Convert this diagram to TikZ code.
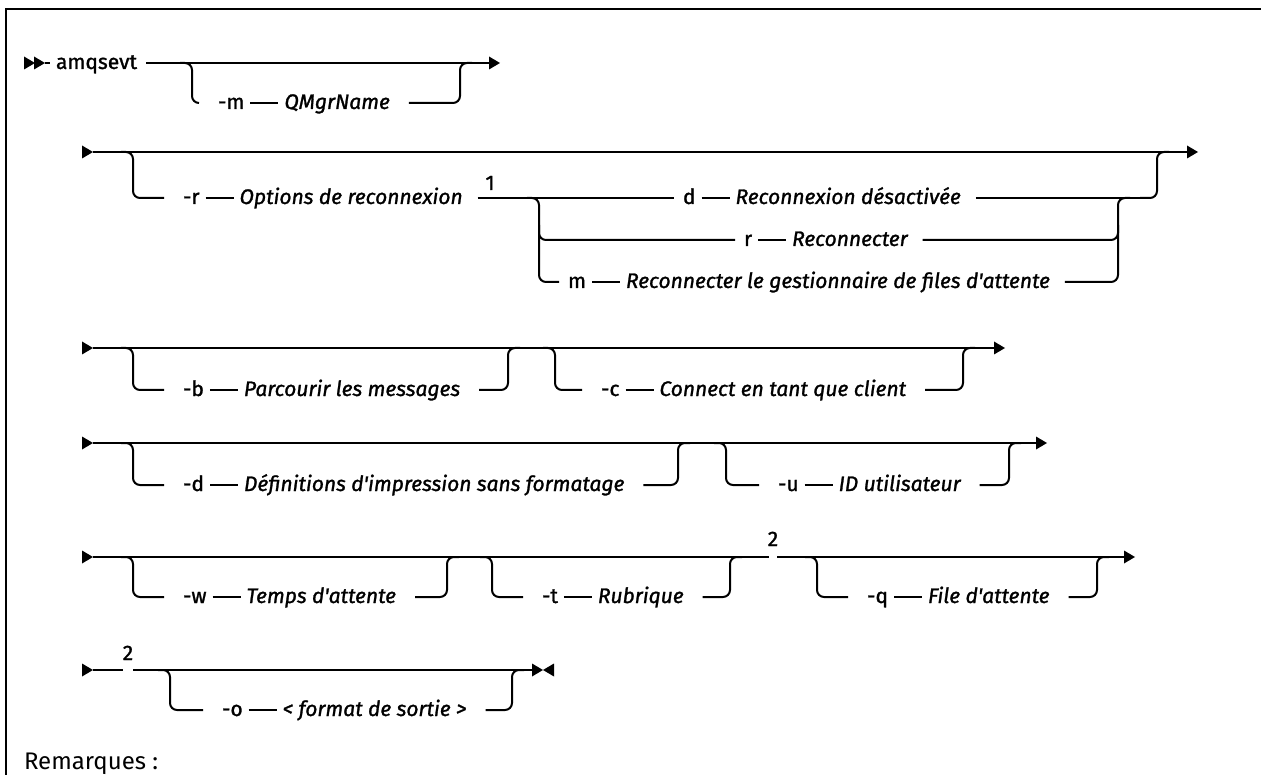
\documentclass[tikz,border=0pt]{standalone}
\usepackage{fontspec}
\usetikzlibrary{calc}
\setmainfont{Fira Sans}
\newfontfamily\labfont{Fira Sans}[FakeBold=1.3]
\begin{document}
\begin{tikzpicture}[x=1pt,y=-1pt,line width=2pt,
  flag/.style={font=\labfont\fontsize{21}{25}\selectfont,inner sep=0pt,anchor=base west},
  val/.style={font=\labfont\fontsize{21}{25}\selectfont\itshape,inner sep=0pt,anchor=base west},
  note/.style={font=\labfont\fontsize{21}{25}\selectfont,inner sep=0pt,anchor=base},
  rr/.style={rounded corners=7pt}]
\useasboundingbox (0,0) rectangle (1261,775);
% frame
\draw[line width=2.2pt] (6,790) -- (6,9) -- (1270,9);
\newcommand\rtri[2]{\fill (#1,#2) -- ++(-11,-6.5) -- ++(0,13) -- cycle;}
\newcommand\ltri[2]{\fill (#1,#2) -- ++(11,-6.5) -- ++(0,13) -- cycle;}
\newcommand\dash[2]{\draw ($(#1.base east)+(5,-6)$) -- ($(#2.base west)+(-5,-6)$);}
% ---------- row 1  (main 63, branch 103)
\rtri{35}{63}\rtri{45}{63}
\coordinate (r1a) at (45,63);
\node[flag] (amq) at (55,69) {amqsevt};
\coordinate (r1e) at (490,63);
\draw (r1a) -- ($(amq.base west)+(-5,-6)$);
\draw ($(amq.base east)+(8,-6)$) -- (r1e);
\rtri{500}{63}
\node[flag] (mf) at (217,109) {-m};
\node[val] (mv) at ($(mf.base east)+(38,0)$) {QMgrName};
\dash{mf}{mv}
\draw[rr] (180,63) -- (192,63) -- (192,103) -- ($(mf.base west)+(-18,-6)$);
\draw[rr] ($(mv.base east)+(18,-6)$) -- (460,103) -- (460,63) -- (472,63);
% ---------- row 2  (main 152, branches 198/240/282)
\rtri{93}{152}
\coordinate (r2a) at (93,152);
\coordinate (r2e) at (1188,152);
\draw (r2a) -- (r2e);
\rtri{1198}{152}
\node[flag] (rf) at (182,204) {-r};
\node[val] (rv) at ($(rf.base east)+(38,0)$) {Options de reconnexion};
\dash{rf}{rv}
\draw[rr] (121,152) -- (133,152) -- (133,198) -- ($(rf.base west)+(-18,-6)$);
\node[note] (n1) at (490,190) {1};
\node[flag] (df) at (682,204) {d};
\node[val] (dv) at ($(df.base east)+(38,0)$) {Reconnexion désactivée};
\dash{df}{dv}
\draw ($(rv.base east)+(14,-6)$) -- ($(df.base west)+(-8,-6)$);
\node[flag] (rrf) at (743,246) {r};
\node[val] (rrv) at ($(rrf.base east)+(38,0)$) {Reconnecter};
\dash{rrf}{rrv}
\node[flag] (mmf) at (567,288) {m};
\node[val] (mmv) at ($(mmf.base east)+(38,0)$) {Reconnecter le gestionnaire de files d'attente};
\dash{mmf}{mmv}
\draw[rr] (527,198) -- (539,198) -- (539,282) -- ($(mmf.base west)+(-8,-6)$);
\draw[rr] (539,225) -- (539,240) -- ($(rrf.base west)+(-8,-6)$);
\draw[rr] ($(rrv.base east)+(14,-6)$) -- (1118,240) -- (1118,225);
\draw[rr] ($(mmv.base east)+(14,-6)$) -- (1118,282) -- (1118,198) -- (1130,198);
\draw ($(dv.base east)+(14,-6)$) -- (1145,198);
\draw[rr] (1140,198) -- (1157,198) -- (1157,152) -- (1169,152);
% ---------- row 3  (main 348, branch 390)
\rtri{93}{348}
\coordinate (r3a) at (93,348);
\coordinate (r3e) at (995,348);
\draw (r3a) -- (r3e);
\rtri{1005}{348}
\node[flag] (bf) at (182,396) {-b};
\node[val] (bv) at ($(bf.base east)+(38,0)$) {Parcourir les messages};
\dash{bf}{bv}
\draw[rr] (121,348) -- (133,348) -- (133,390) -- ($(bf.base west)+(-18,-6)$);
\draw[rr] ($(bv.base east)+(18,-6)$) -- (508,390) -- (508,348) -- (520,348);
\node[flag] (cf) at (600,396) {-c};
\node[val] (cv) at ($(cf.base east)+(38,0)$) {Connect en tant que client};
\dash{cf}{cv}
\draw[rr] (543,348) -- (555,348) -- (555,390) -- ($(cf.base west)+(-18,-6)$);
\draw[rr] ($(cv.base east)+(18,-6)$) -- (963,390) -- (963,348) -- (975,348);
% ---------- row 4  (main 443, branch 485)
\rtri{93}{443}
\coordinate (r4a) at (93,443);
\coordinate (r4e) at (1037,443);
\draw (r4a) -- (r4e);
\rtri{1047}{443}
\node[flag] (ddf) at (182,491) {-d};
\node[val] (ddv) at ($(ddf.base east)+(38,0)$) {Définitions d'impression sans formatage};
\dash{ddf}{ddv}
\draw[rr] (121,443) -- (133,443) -- (133,485) -- ($(ddf.base west)+(-18,-6)$);
\draw[rr] ($(ddv.base east)+(18,-6)$) -- (678,485) -- (678,443) -- (690,443);
\node[flag] (uf) at (777,491) {-u};
\node[val] (uv) at ($(uf.base east)+(38,0)$) {ID utilisateur};
\dash{uf}{uv}
\draw[rr] (714,443) -- (726,443) -- (726,485) -- ($(uf.base west)+(-18,-6)$);
\draw[rr] ($(uv.base east)+(18,-6)$) -- (1009,485) -- (1009,443) -- (1021,443);
% ---------- row 5  (main 557, branch 597)
\rtri{93}{557}
\coordinate (r5a) at (93,557);
\coordinate (r5g) at (769,557);
\coordinate (r5h) at (777,557);
\coordinate (r5e) at (1125,557);
\draw (r5a) -- (r5g);
\draw (r5h) -- (r5e);
\rtri{1135}{557}
\node[note] (n2a) at (773,546) {2};
\node[flag] (wf) at (182,603) {-w};
\node[val] (wv) at ($(wf.base east)+(38,0)$) {Temps d'attente};
\dash{wf}{wv}
\draw[rr] (121,557) -- (133,557) -- (133,597) -- ($(wf.base west)+(-18,-6)$);
\draw[rr] ($(wv.base east)+(18,-6)$) -- (447,597) -- (447,557) -- (459,557);
\node[flag] (tf) at (541,603) {-t};
\node[val] (tv) at ($(tf.base east)+(38,0)$) {Rubrique};
\dash{tf}{tv}
\draw[rr] (480,557) -- (492,557) -- (492,597) -- ($(tf.base west)+(-18,-6)$);
\draw[rr] ($(tv.base east)+(18,-6)$) -- (730,597) -- (730,557) -- (742,557);
\node[flag] (qf) at (866,603) {-q};
\node[val] (qv) at ($(qf.base east)+(38,0)$) {File d'attente};
\dash{qf}{qv}
\draw[rr] (805,557) -- (817,557) -- (817,597) -- ($(qf.base west)+(-18,-6)$);
\draw[rr] ($(qv.base east)+(18,-6)$) -- (1097,597) -- (1097,557) -- (1109,557);
% ---------- row 6  (main 670, branch 710)
\rtri{93}{670}
\coordinate (r6a) at (93,670);
\coordinate (r6g) at (123,670);
\coordinate (r6h) at (133,670);
\coordinate (r6e) at (540,670);
\draw (r6a) -- (r6g);
\draw (r6h) -- (r6e);
\rtri{543}{670}\ltri{543}{670}
\node[note] (n2b) at (128,660) {2};
\node[flag] (of) at (221,716) {-o};
\node[val] (ov) at ($(of.base east)+(38,0)$) {< format de sortie >};
\dash{of}{ov}
\draw[rr] (158,670) -- (170,670) -- (170,710) -- ($(of.base west)+(-18,-6)$);
\draw[rr] ($(ov.base east)+(18,-6)$) -- (512,710) -- (512,670) -- (524,670);
% ---------- notes
\node[font=\fontsize{24}{28}\selectfont,inner sep=0pt,anchor=base west] (rem) at (23,769) {Remarques :};
\end{tikzpicture}
\end{document}
